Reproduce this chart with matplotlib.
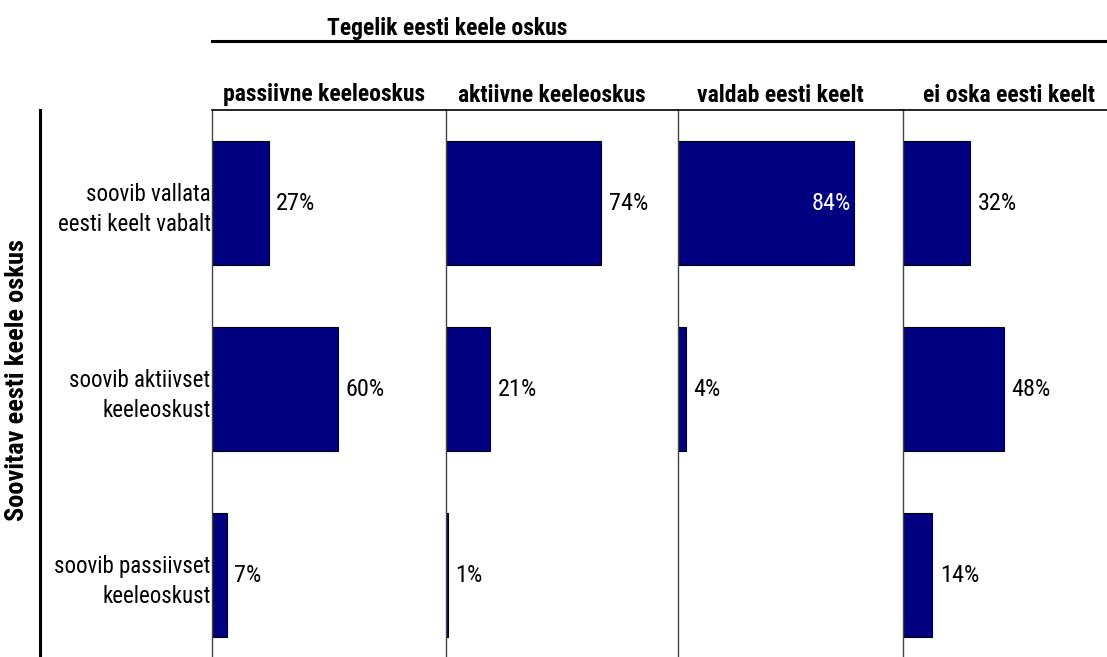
import matplotlib
matplotlib.use("Agg")
import matplotlib.pyplot as plt
from matplotlib.lines import Line2D
from matplotlib import font_manager

# the reference uses a narrow sans; pick whatever condensed face is installed
narrow = None
for name in ["Liberation Sans Narrow", "Roboto Condensed", "Open Sans Condensed", "Noto Sans Condensed"]:
    try:
        font_manager.findfont(font_manager.FontProperties(family=name), fallback_to_default=False)
        narrow = name
        break
    except ValueError:
        pass
if narrow:
    plt.rcParams['font.family'] = [narrow, 'DejaVu Sans']
else:
    plt.rcParams['font.family'] = ['DejaVu Sans']
    plt.rcParams['font.stretch'] = 'condensed'

TITLE = "Tegelik eesti keele oskus"
SIDE_TITLE = "Soovitav eesti keele oskus"
columns = ["passiivne keeleoskus", "aktiivne keeleoskus", "valdab eesti keelt", "ei oska eesti keelt"]
rows = ["soovib vallata\neesti keelt vabalt", "soovib aktiivset\nkeeleoskust", "soovib passiivset\nkeeleoskust"]
# values per column (top -> bottom rows)
passiivne = [27, 60, 7]
aktiivne = [74, 21, 1]
valdab = [84, 4, None]
ei_oska = [32, 48, 14]
values = [passiivne, aktiivne, valdab, ei_oska]

W, H = 1107, 657
fig = plt.figure(figsize=(W / 100, H / 100), dpi=100)

# panel geometry in pixels
lefts = [212, 446, 678, 903]
rights = [446, 678, 903, 1107]
top_px, bottom_px = 110, 657
px_per_pct = 2.1
BAR = "#000080"
FS = 16.5
FS_VAL = 17.5
FS_BOLD = 17

for i, vals in enumerate(values):
    l, r = lefts[i], rights[i]
    ax = fig.add_axes([l / W, 1 - bottom_px / H, (r - l) / W, (bottom_px - top_px) / H])
    ax.set_xlim(0, (r - l) / px_per_pct)
    ax.set_ylim(2.44, -0.5)
    ypos = [k for k, v in enumerate(vals) if v is not None]
    widths = [v for v in vals if v is not None]
    ax.barh(ypos, widths, height=0.67, color=BAR, edgecolor="black", linewidth=0.8)
    for y, v in zip(ypos, widths):
        if v >= 80:
            ax.text(v - 1.5, y, f"{v}%", color="white", ha="right", va="center", fontsize=FS_VAL)
        else:
            ax.text(v + 3.5, y, f"{v}%", color="black", ha="left", va="center", fontsize=FS_VAL)
    for s in ["right", "bottom"]:
        ax.spines[s].set_visible(False)
    ax.spines["left"].set_color("#444444")
    ax.spines["left"].set_linewidth(1.0)
    ax.spines["top"].set_linewidth(1.2)
    ax.set_xticks([])
    if i == 0:
        ax.set_yticks(range(len(rows)))
        ax.set_yticklabels(rows, fontsize=FS, linespacing=1.4)
        ax.tick_params(axis="y", length=0, pad=1)
    else:
        ax.set_yticks([])

head_x = [324, 552, 780, 1009]
for x, head in zip(head_x, columns):
    fig.text(x / W, 1 - 95 / H, head, ha="center", va="center", fontsize=FS_BOLD, fontweight="bold")

fig.text(447 / W, 1 - 28 / H, TITLE, ha="center", va="center", fontsize=FS_BOLD, fontweight="bold")
fig.add_artist(Line2D([212 / W, 1], [1 - 41 / H, 1 - 41 / H], color="black", linewidth=2.2))
fig.add_artist(Line2D([40 / W, 40 / W], [1 - 110 / H, 0], color="black", linewidth=2.2))
fig.text(17 / W, 1 - 380 / H, SIDE_TITLE, rotation=90, ha="center", va="center", fontsize=19, fontweight="bold")

fig.savefig("out.png", dpi=100)
